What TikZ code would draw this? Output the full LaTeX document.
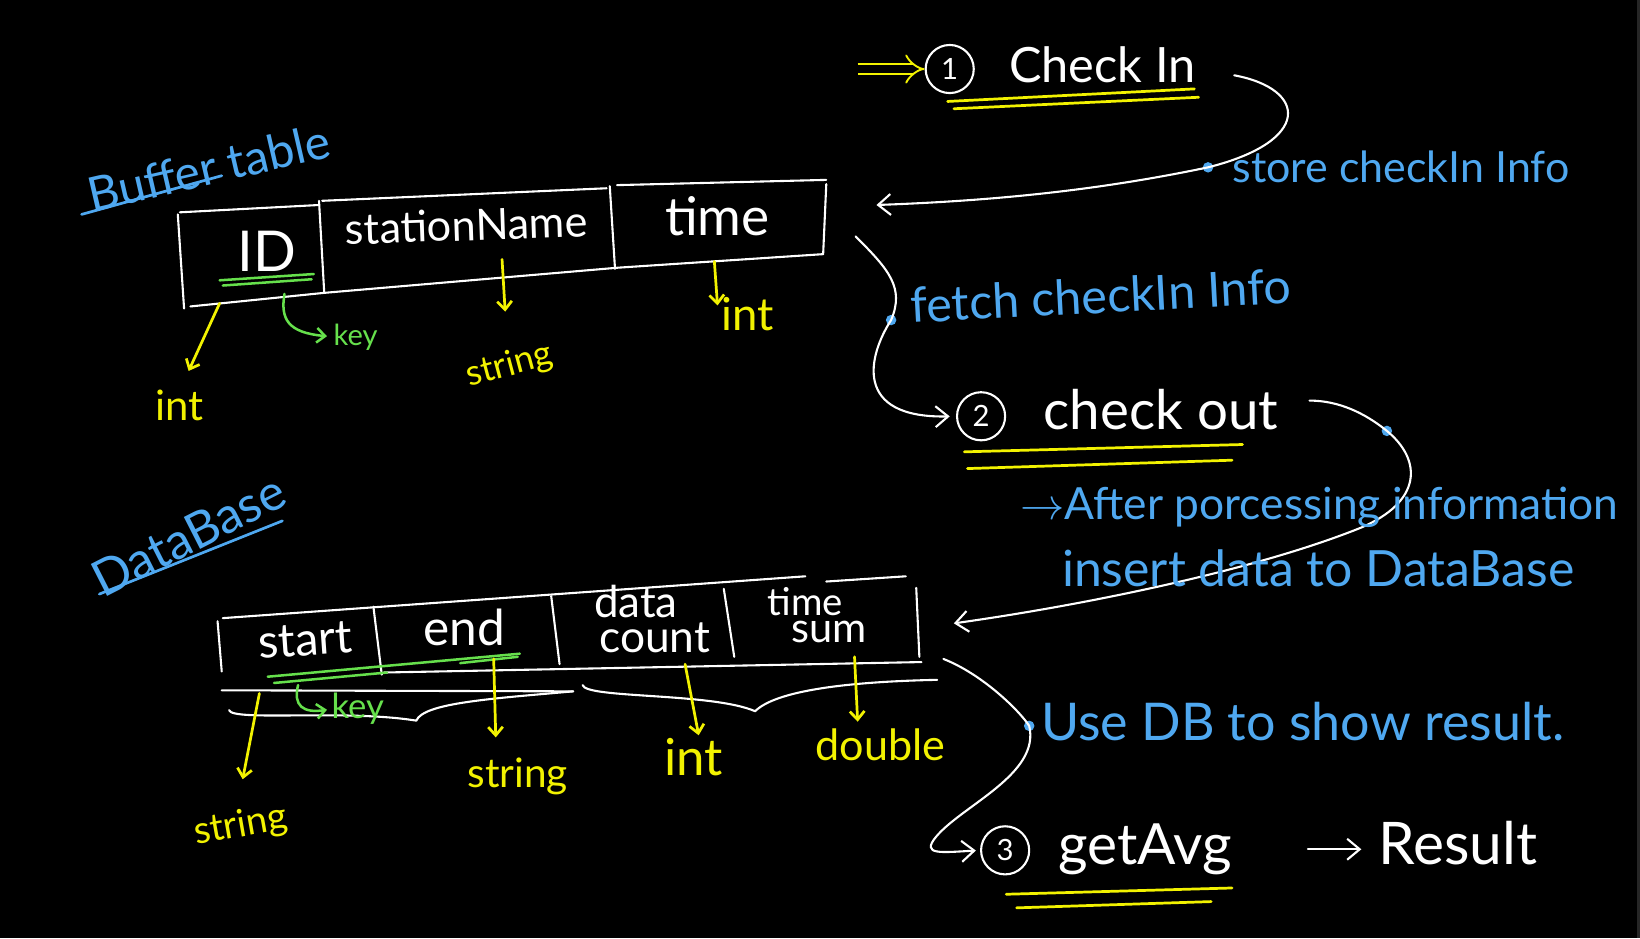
\documentclass[tikz,border=0pt]{standalone}
\usepackage{fontspec}
\setmainfont{Lato}
\usepackage{graphicx}
\usetikzlibrary{arrows.meta}
\definecolor{hwblue}{HTML}{4FA8F0}
\definecolor{hwyellow}{HTML}{F2F200}
\definecolor{hwgreen}{HTML}{66E04C}
\definecolor{edgegray}{HTML}{262626}
\newcommand{\hw}[2]{\resizebox{#1pt}{!}{#2}}
\begin{document}
\begin{tikzpicture}[x=0.5pt,y=-0.5pt,
  wl/.style={white,line width=1pt,line cap=round,line join=round},
  yl/.style={hwyellow,line width=1.3pt,line cap=round},
  gl/.style={hwgreen,line width=1.2pt,line cap=round},
  bl/.style={hwblue,line width=1.3pt,line cap=round},
  tip/.style={-{Straight Barb[length=6pt,width=10pt]}},
  stip/.style={-{Straight Barb[length=4pt,width=7pt]}},
  wtext/.style={text=white,inner sep=0pt},
  btext/.style={text=hwblue,inner sep=0pt},
  ytext/.style={text=hwyellow,inner sep=0pt},
  gtext/.style={text=hwgreen,inner sep=0pt},
  numc/.style={circle,draw=white,line width=1pt,text=white,minimum size=23pt,inner sep=0pt,font=\fontsize{14}{16}\selectfont},
  dotb/.style={circle,fill=hwblue,inner sep=0pt,minimum size=5pt}
]
\fill[black] (0,0) rectangle (1568,897);
\fill[edgegray] (1565,0) rectangle (1568,897);
\useasboundingbox (0,0) rectangle (1568,897);

% ---------------- Buffer table ----------------
\node[btext,rotate=13] (bufT) at (200,160) {\hw{118}{Buffer table}};
\draw[bl] (78,205) -- (212,168);

\draw[wl] (172,203) -- (305,196);
\draw[wl] (308,192) -- (580,180);
\draw[wl] (590,177) -- (790,172);
\draw[wl] (170,205) -- (176,295);
\draw[wl] (182,293) -- (310,280) -- (590,256) -- (787,243);
\draw[wl] (305,192) -- (310,280);
\draw[wl] (583,178) -- (588,257);
\draw[wl] (790,176) -- (787,243);

\node[wtext] (bID) at (255,240) {\hw{28}{ID}};
\node[wtext,rotate=2] (bSN) at (446,215) {\hw{116}{stationName}};
\node[wtext] (bTime) at (686,207) {\hw{50}{time}};

\draw[gl] (210,268) -- (300,262);
\draw[gl] (213,273) -- (298,267);
\node[gtext] (bKey) at (340,322) {\hw{21}{key}};
\coordinate (bIDk) at (272,281);
\draw[gl,stip,shorten >=3pt] (bIDk) .. controls (268,305) and (275,318) .. (bKey.west);

\node[ytext] (bInt1) at (172,388) {\hw{23}{int}};
\coordinate (bIDb) at (210,290);
\draw[yl,stip,shorten >=10pt] (bIDb) -- (bInt1.north);
\node[ytext,rotate=15] (bStr) at (487,350) {\hw{42}{string}};
\coordinate (bSNb) at (480,248);
\draw[yl,stip] (bSNb) -- (483,298);
\node[ytext] (bInt2) at (715,300) {\hw{25}{int}};
\coordinate (bTb) at (683,250);
\draw[yl,stip] (bTb) -- (686,292);

% ---------------- Check In ----------------
\node[numc] (c1) at (908,66) {1};
\node[wtext] (ci) at (1054,62) {\hw{89}{Check In}};
\coordinate (dIn) at (820,66);
\draw[hwyellow,line width=0.9pt,double=black,double distance=4pt,-{Implies}] (dIn) -- (c1.west);
\draw[yl] (906,97) -- (1142,85);
\draw[yl] (912,104) -- (1146,93);

\coordinate (ciE) at (1180,72);
\coordinate (bIn) at (838,196);
\node[dotb] (d1) at (1155,160) {};
\draw[wl,tip] (ciE) .. controls (1250,85) and (1255,135) .. (d1.center) .. controls (1050,182) and (950,192) .. (bIn);
\node[btext,anchor=west] (st) at (1178,160) {\hw{161}{store checkIn Info}};

% ---------------- fetch ----------------
\coordinate (bOut) at (818,226);
\node[dotb] (d2) at (852,306) {};
\node[numc] (c2) at (938,398) {2};
\draw[wl,tip,shorten >=3pt] (bOut) .. controls (850,258) and (865,275) .. (d2.center) .. controls (830,340) and (815,400) .. (c2.west);
\node[btext,anchor=west,rotate=3] (fe) at (870,292) {\hw{182}{fetch checkIn Info}};

\node[wtext] (co) at (1110,392) {\hw{112}{check out}};
\draw[yl] (922,432) -- (1188,425);
\draw[yl] (925,448) -- (1178,440);

\coordinate (coE) at (1252,383);
\node[dotb] (d3) at (1326,412) {};
\coordinate (dbIn) at (912,596);
\draw[wl,tip] (coE) .. controls (1280,383) and (1305,395) .. (d3.center) .. controls (1360,440) and (1360,480) .. (1300,505) .. controls (1200,545) and (1040,578) .. (dbIn);
\node[btext,anchor=west] (ap) at (975,485) {\hw{286}{$\rightarrow$After porcessing information}};
\node[btext,anchor=west] (ins) at (1015,543) {\hw{245}{insert data to DataBase}};

% ---------------- DataBase ----------------
\node[btext,rotate=27] (dbT) at (180,512) {\hw{100}{DataBase}};
\draw[bl] (95,568) -- (270,498);

\draw[wl] (213,591) -- (770,551);
\draw[wl] (790,556) -- (866,551);
\draw[wl] (208,594) -- (212,642);
\draw[wl] (357,580) -- (365,645);
\draw[wl] (527,570) -- (535,635);
\draw[wl] (692,563) -- (702,628);
\draw[wl] (876,562) -- (879,628);
\draw[wl] (367,643) -- (881,633);
\draw[wl] (212,660) -- (548,661);
\draw[wl] (219,679) .. controls (222,690) and (330,678) .. (398,689) .. controls (405,672) and (470,668) .. (548,661);
\draw[wl] (557,655) .. controls (560,668) and (680,662) .. (722,680) .. controls (740,662) and (800,652) .. (896,650);

\node[wtext,rotate=4] (dStart) at (292,612) {\hw{45}{start}};
\node[wtext] (dEnd) at (444,600) {\hw{39}{end}};
\node[wtext] (dData) at (608,575) {\hw{40}{data}};
\node[wtext] (dCount) at (626,610) {\hw{53}{count}};
\node[wtext] (dTime) at (770,575) {\hw{36}{time}};
\node[wtext] (dSum) at (793,604) {\hw{36}{sum}};

\draw[gl] (256,647) -- (497,625);
\draw[gl] (262,653) -- (370,643);
\draw[gl] (440,634) -- (495,628);
\node[gtext] (dKey) at (342,678) {\hw{25}{key}};
\coordinate (sKey) at (285,655);
\draw[gl,stip,shorten >=2pt] (sKey) .. controls (280,675) and (290,682) .. (dKey.west);

\coordinate (sA) at (248,663);
\node[ytext,rotate=10] (ds1) at (230,790) {\hw{45}{string}};
\draw[yl,stip] (sA) -- (232,745);
\coordinate (eA) at (472,630);
\node[ytext] (ds2) at (495,742) {\hw{48}{string}};
\draw[yl,stip] (eA) -- (474,705);
\coordinate (cA) at (655,635);
\node[ytext] (dInt) at (663,724) {\hw{28}{int}};
\draw[yl,stip] (cA) -- (668,703);
\coordinate (tA) at (817,628);
\node[ytext] (dDouble) at (842,712) {\hw{62}{double}};
\draw[yl,stip] (tA) -- (820,690);

% ---------------- getAvg ----------------
\coordinate (dbOut) at (902,630);
\node[dotb] (d4) at (984,694) {};
\node[numc] (c3) at (961,813) {3};
\draw[wl,tip,shorten >=2pt] (dbOut) .. controls (940,645) and (975,680) .. (d4.center) .. controls (995,740) and (920,770) .. (895,800) .. controls (880,818) and (900,815) .. (c3.west);
\node[btext,anchor=west] (use) at (995,690) {\hw{250}{Use DB to show result.}};

\node[wtext] (ga) at (1095,812) {\hw{83}{getAvg}};
\draw[yl] (962,855) -- (1178,849);
\draw[yl] (972,868) -- (1158,862);
\node[wtext] (res) at (1394,806) {\hw{76}{Result}};
\draw[wl,tip,shorten <=36pt,shorten >=8pt] (ga.east) -- (ga.east -| res.west);
\end{tikzpicture}
\end{document}
